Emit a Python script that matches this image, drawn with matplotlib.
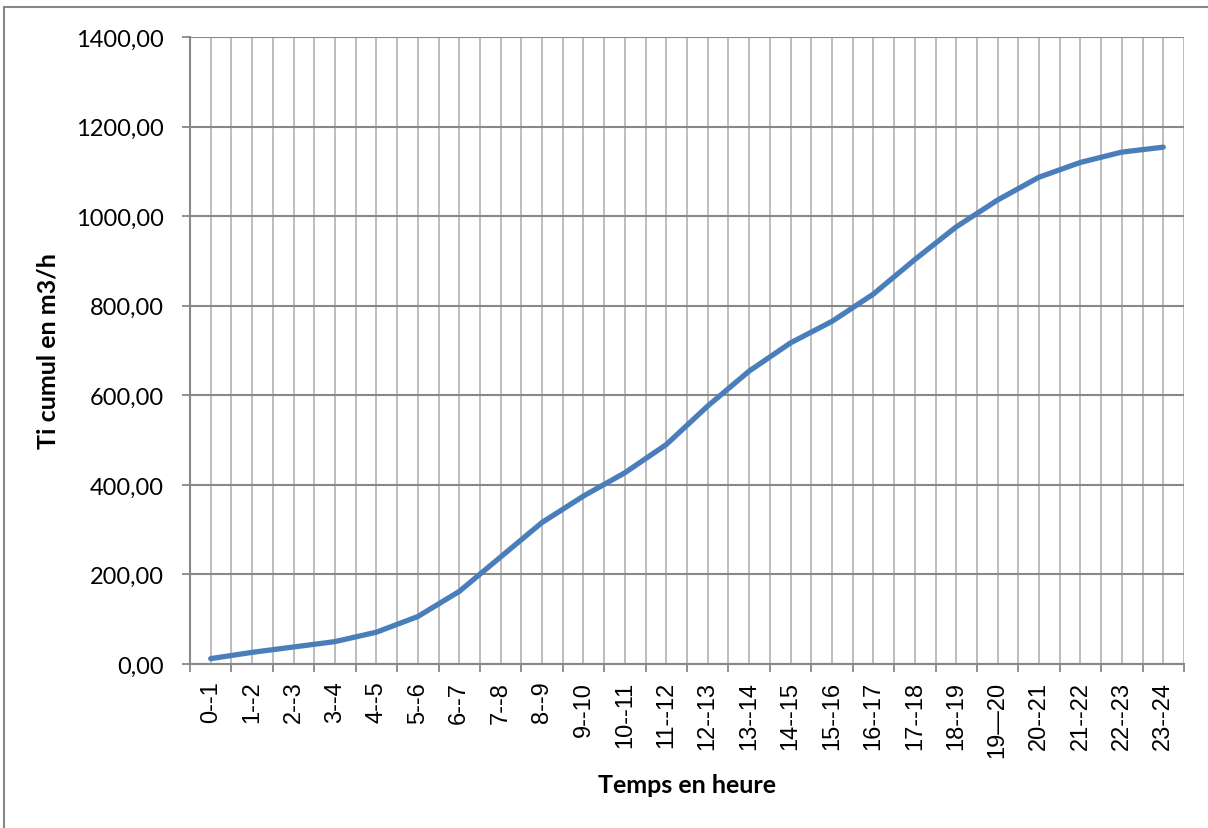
import matplotlib
matplotlib.use("Agg")
import matplotlib.pyplot as plt
from matplotlib.lines import Line2D
from matplotlib.ticker import FuncFormatter, MultipleLocator
import numpy as np

# hourly slots and cumulative volume (m3)
heures = ["0--1", "1--2", "2--3", "3--4", "4--5", "5--6", "6--7", "7--8",
          "8--9", "9--10", "10--11", "11--12", "12--13", "13--14", "14--15",
          "15--16", "16--17", "17--18", "18--19", "19\u201420", "20--21",
          "21--22", "22--23", "23--24"]
ti_cumul = [12, 26, 38, 50, 71, 106, 162, 239, 316, 375, 427, 490,
            576, 654, 717, 765, 826, 903, 976, 1036, 1087, 1120, 1143, 1154]

fig = plt.figure(figsize=(12.08, 8.29), dpi=100)
ax = fig.add_axes([190 / 1208, 1 - 665 / 829, 994 / 1208, 627 / 829])

x = np.arange(len(heures))
ax.plot(x, ti_cumul, color="#4a7ebb", lw=3.8, solid_capstyle="round",
        solid_joinstyle="round", zorder=3)

ax.set_xlim(-0.5, len(heures) - 0.5)
ax.set_ylim(0, 1400)
ax.yaxis.set_major_locator(MultipleLocator(200))
ax.yaxis.set_major_formatter(FuncFormatter(lambda v, p: f"{v:.2f}".replace(".", ",")))

ax.set_xticks(x)
ax.set_xticklabels(heures, rotation=90, fontsize=17, family="Liberation Sans")
ax.set_xticks(np.arange(-0.5, len(heures), 1), minor=True)

# vertical grid at centres and boundaries, darker horizontal grid
ax.grid(axis="x", which="both", color="#b8b8b8", lw=1.3, zorder=0)
ax.grid(axis="y", which="major", color="#888888", lw=1.5, zorder=0)
ax.set_axisbelow(True)

ax.tick_params(axis="x", which="major", length=0, pad=12)
ax.tick_params(axis="x", which="minor", length=6, width=1.3, color="#888888")
ax.tick_params(axis="y", length=6, width=1.3, color="#888888", pad=13,
               labelsize=17)
for lab in ax.get_yticklabels():
    lab.set_family("Lato")

for side in ["top", "right"]:
    ax.spines[side].set_visible(False)
for side in ["left", "bottom"]:
    ax.spines[side].set_color("#888888")
    ax.spines[side].set_linewidth(1.5)

ax.set_xlabel("Temps en heure", fontsize=18, fontweight="bold", family="Lato",
              labelpad=12)
ax.set_ylabel("Ti cumul en m3/h", fontsize=18, fontweight="bold", family="Lato",
              labelpad=12)

# chart area border (left and top edges)
fig.add_artist(Line2D([4 / 1208, 4 / 1208], [0, 1 - 8 / 829],
                      transform=fig.transFigure, color="#888888", lw=1.5))
fig.add_artist(Line2D([4 / 1208, 1], [1 - 8 / 829, 1 - 8 / 829],
                      transform=fig.transFigure, color="#888888", lw=1.5))

fig.savefig("out.png", dpi=100, facecolor="white")
